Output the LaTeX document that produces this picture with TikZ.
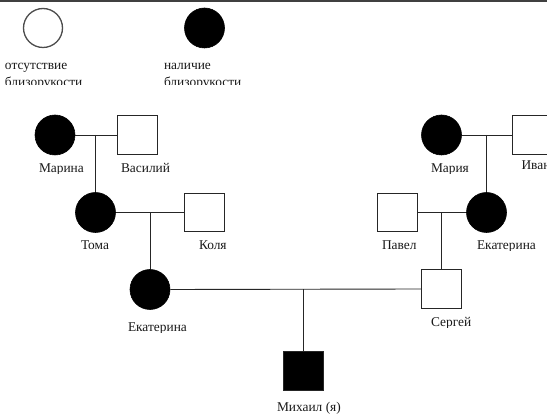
\documentclass[tikz,border=0pt]{standalone}
\usepackage{fontspec}
\setmainfont{Liberation Serif}
\begin{document}
\begin{tikzpicture}[x=1pt,y=-1pt,
  fem/.style={circle,fill=black,draw=black,line width=0.6pt,minimum size=40pt,inner sep=0pt},
  femlegend/.style={circle,draw=black!70,line width=1.3pt,minimum size=39pt,inner sep=0pt},
  male/.style={rectangle,draw=black!85,line width=0.9pt,minimum width=40pt,minimum height=38.5pt,inner sep=0pt},
  malef/.style={male,fill=black},
  link/.style={draw=black!85,line width=0.9pt},
  lbl/.style={anchor=base west,inner sep=0pt,outer sep=0pt,text=black!90,font=\fontsize{13.4}{15}\selectfont}]
\useasboundingbox (0,0) rectangle (547,414);
\fill[white] (0,0) rectangle (547,414);
% top border
\draw[black!75,line width=2pt] (0,1) -- (547,1);
% legend
\node[femlegend] (leg0) at (43,28) {};
\node[fem] (leg1) at (204.5,28) {};
\begin{scope}
\clip (0,50) rectangle (300,85);
\node[lbl] (legt0a) at (5,70) {отсутствие};
\node[lbl] (legt0b) at (5,87) {близорукости};
\node[lbl] (legt1a) at (164,70) {наличие};
\node[lbl] (legt1b) at (164,87) {близорукости};
\end{scope}
% persons
\node[fem] (marina) at (55,135) {};
\node[male] (vasiliy) at (137.5,135) {};
\node[fem] (toma) at (95.5,212.5) {};
\node[male] (kolya) at (204,212.5) {};
\node[fem] (maria) at (441.5,135) {};
\node[male] (ivan) at (532,135) {};
\node[male] (pavel) at (397,212.5) {};
\node[fem] (ekr) at (486.5,212.5) {};
\node[fem] (ekl) at (150,289.5) {};
\node[male] (sergey) at (441.5,289) {};
\node[malef] (mikhail) at (303.5,371) {};
% unions and descent
\coordinate (u1) at (95.5,135);
\coordinate (u2) at (150,212.5);
\coordinate (u3) at (486.5,135);
\coordinate (u4) at (441.5,212.5);
\coordinate (u5) at (303.5,289.5);
\draw[link] (marina.east) -- (vasiliy.west);
\draw[link] (u1) -- (toma.north);
\draw[link] (toma.east) -- (kolya.west);
\draw[link] (u2) -- (ekl.north);
\draw[link] (maria.east) -- (ivan.west);
\draw[link] (u3) -- (ekr.north);
\draw[link] (pavel.east) -- (ekr.west);
\draw[link] (u4) -- (sergey.north);
\draw[link] (ekl.east) -- (sergey.west);
\draw[link] (u5) -- (mikhail.north);
% labels (clipped near baseline)
\begin{scope}\clip (30,150) rectangle (300,173.5);
\node[lbl] (tmarina) at (39,172.5) {Марина};
\node[lbl] (tvasiliy) at (121,172.5) {Василий};
\end{scope}
\begin{scope}\clip (60,230) rectangle (300,251);
\node[lbl] (ttoma) at (81,250) {Тома};
\node[lbl] (tkolya) at (199,250) {Коля};
\end{scope}
\begin{scope}\clip (420,150) rectangle (547,173.5);
\node[lbl] (tmaria) at (431,172.7) {Мария};
\end{scope}
\begin{scope}\clip (510,150) rectangle (547,170.5);
\node[lbl] (tivan) at (521.5,169.5) {Иван};
\end{scope}
\begin{scope}\clip (370,230) rectangle (547,251);
\node[lbl] (tpavel) at (382,250) {Павел};
\node[lbl] (tekr) at (477,250) {Екатерина};
\end{scope}
\begin{scope}\clip (110,310) rectangle (220,332.5);
\node[lbl] (tekl) at (128,331.5) {Екатерина};
\end{scope}
\begin{scope}\clip (420,305) rectangle (500,328);
\node[lbl] (tsergey) at (431,327) {Сергей};
\end{scope}
\begin{scope}\clip (260,390) rectangle (360,414);
\node[lbl] (tmikhail) at (277,411.5) {Михаил (я)};
\end{scope}
\end{tikzpicture}
\end{document}
